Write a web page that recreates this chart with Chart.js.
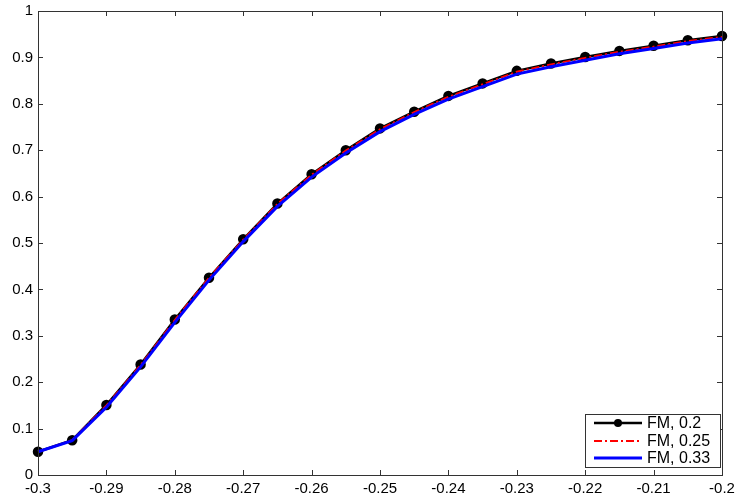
<!DOCTYPE html>
<html>
<head>
<meta charset="utf-8">
<script src="https://cdn.jsdelivr.net/npm/chart.js@4.4.0/dist/chart.umd.min.js"></script>
<style>
    html, body { margin: 0; padding: 0; background: #fff; }
    #wrap { width: 737px; height: 499px; }
</style>
</head>
<body>
<div id="wrap"><canvas id="myChart" width="737" height="499"></canvas></div>
<script>
// x positions of the samples
const xValues = [-0.3, -0.295, -0.29, -0.285, -0.28, -0.275, -0.27, -0.265, -0.26, -0.255, -0.25,
    -0.245, -0.24, -0.235, -0.23, -0.225, -0.22, -0.215, -0.21, -0.205, -0.2];

// series
const fm020 = [0.050, 0.075, 0.151, 0.238, 0.335, 0.425, 0.508, 0.585, 0.648, 0.700, 0.747,
    0.783, 0.817, 0.844, 0.871, 0.887, 0.901, 0.914, 0.925, 0.937, 0.946];
const fm025 = [0.050, 0.075, 0.150, 0.237, 0.334, 0.425, 0.507, 0.584, 0.647, 0.699, 0.745,
    0.782, 0.815, 0.842, 0.869, 0.885, 0.899, 0.912, 0.923, 0.935, 0.944];
const fm033 = [0.050, 0.074, 0.146, 0.233, 0.329, 0.420, 0.503, 0.579, 0.642, 0.694, 0.740,
    0.777, 0.810, 0.837, 0.864, 0.880, 0.894, 0.908, 0.919, 0.931, 0.940];

const seriesLabels = ['FM, 0.2', 'FM, 0.25', 'FM, 0.33'];
const xTicks = [-0.3, -0.29, -0.28, -0.27, -0.26, -0.25, -0.24, -0.23, -0.22, -0.21, -0.2];
const yTicks = [0, 0.1, 0.2, 0.3, 0.4, 0.5, 0.6, 0.7, 0.8, 0.9, 1];

function toPoints(ys) {
    return ys.map((y, i) => ({ x: xValues[i], y: y }));
}

// matlab style box with inward ticks + legend
const matlabBox = {
    id: 'matlabBox',
    afterDatasetsDraw(chart) {
        const ctx = chart.ctx;
        const a = chart.chartArea;
        const xs = chart.scales.x;
        const ys = chart.scales.y;
        ctx.save();
        ctx.strokeStyle = '#333';
        ctx.lineWidth = 1;
        ctx.strokeRect(Math.round(a.left) + 0.5, Math.round(a.top) + 0.5,
            Math.round(a.right - a.left), Math.round(a.bottom - a.top));
        ctx.beginPath();
        xTicks.forEach(v => {
            const px = Math.round(xs.getPixelForValue(v)) + 0.5;
            ctx.moveTo(px, a.bottom); ctx.lineTo(px, a.bottom - 5);
            ctx.moveTo(px, a.top); ctx.lineTo(px, a.top + 5);
        });
        yTicks.forEach(v => {
            const py = Math.round(ys.getPixelForValue(v)) + 0.5;
            ctx.moveTo(a.left, py); ctx.lineTo(a.left + 5, py);
            ctx.moveTo(a.right, py); ctx.lineTo(a.right - 5, py);
        });
        ctx.stroke();

        // legend
        const lx = 585, ly = 414, lw = 135, lh = 53;
        ctx.fillStyle = '#fff';
        ctx.fillRect(lx, ly, lw, lh);
        ctx.strokeStyle = '#333';
        ctx.strokeRect(lx + 0.5, ly + 0.5, lw, lh);
        const rows = [423, 441, 458];
        chart.data.datasets.forEach((ds, i) => {
            const y = rows[i];
            ctx.strokeStyle = ds.borderColor;
            ctx.lineWidth = ds.borderWidth;
            ctx.setLineDash(ds.borderDash || []);
            ctx.beginPath();
            ctx.moveTo(594, y); ctx.lineTo(642, y);
            ctx.stroke();
            ctx.setLineDash([]);
            if (ds.pointRadius > 0) {
                ctx.fillStyle = ds.pointBackgroundColor;
                ctx.beginPath();
                ctx.arc(618, y, ds.pointRadius, 0, Math.PI * 2);
                ctx.fill();
            }
            ctx.fillStyle = '#000';
            ctx.font = '16px "Liberation Sans", Arial, sans-serif';
            ctx.textBaseline = 'middle';
            ctx.textAlign = 'left';
            ctx.fillText(ds.label, 647, y + 1);
        });
        ctx.restore();
    }
};

var ctx = document.getElementById('myChart').getContext('2d');

var myChart = new Chart(ctx, {
    type: 'line',
    data: {
        datasets: [{
            label: seriesLabels[0],
            data: toPoints(fm020),
            borderColor: '#000000',
            backgroundColor: '#000000',
            pointBackgroundColor: '#000000',
            pointBorderColor: '#000000',
            borderWidth: 2.5,
            pointRadius: 4,
            order: 3,
            clip: false
        }, {
            label: seriesLabels[1],
            data: toPoints(fm025),
            borderColor: '#ff0000',
            backgroundColor: '#ff0000',
            borderWidth: 2,
            borderDash: [8, 3, 2, 3],
            pointRadius: 0,
            order: 2,
            clip: false
        }, {
            label: seriesLabels[2],
            data: toPoints(fm033),
            borderColor: '#0000ff',
            backgroundColor: '#0000ff',
            borderWidth: 3,
            pointRadius: 0,
            order: 1,
            clip: false
        }]
    },
    options: {
        responsive: false,
        maintainAspectRatio: false,
        animation: false,
        layout: {
            padding: { left: 0, right: 15, top: 11, bottom: 0 }
        },
        plugins: {
            legend: { display: false },
            tooltip: { enabled: false }
        },
        scales: {
            x: {
                type: 'linear',
                min: -0.3,
                max: -0.2,
                grid: { display: false, drawTicks: false },
                border: { display: false },
                afterBuildTicks: (scale) => { scale.ticks = xTicks.map(v => ({ value: v })); },
                afterFit: (scale) => {
                    scale.height = 24;
                    scale.paddingLeft = 0;
                    scale.paddingRight = 0;
                },
                ticks: {
                    color: '#000',
                    padding: 5,
                    maxRotation: 0,
                    autoSkip: false,
                    font: { family: '"Liberation Sans", Arial, sans-serif', size: 15 },
                    callback: (v) => String(+Number(v).toFixed(3))
                }
            },
            y: {
                type: 'linear',
                min: 0,
                max: 1,
                grid: { display: false, drawTicks: false },
                border: { display: false },
                afterBuildTicks: (scale) => { scale.ticks = yTicks.map(v => ({ value: v })); },
                afterFit: (scale) => {
                    scale.width = 38;
                    scale.paddingTop = 0;
                    scale.paddingBottom = 0;
                },
                ticks: {
                    color: '#000',
                    padding: 5,
                    autoSkip: false,
                    font: { family: '"Liberation Sans", Arial, sans-serif', size: 15 },
                    callback: (v) => String(+Number(v).toFixed(2))
                }
            }
        }
    },
    plugins: [matlabBox]
});
</script>
</body>
</html>
